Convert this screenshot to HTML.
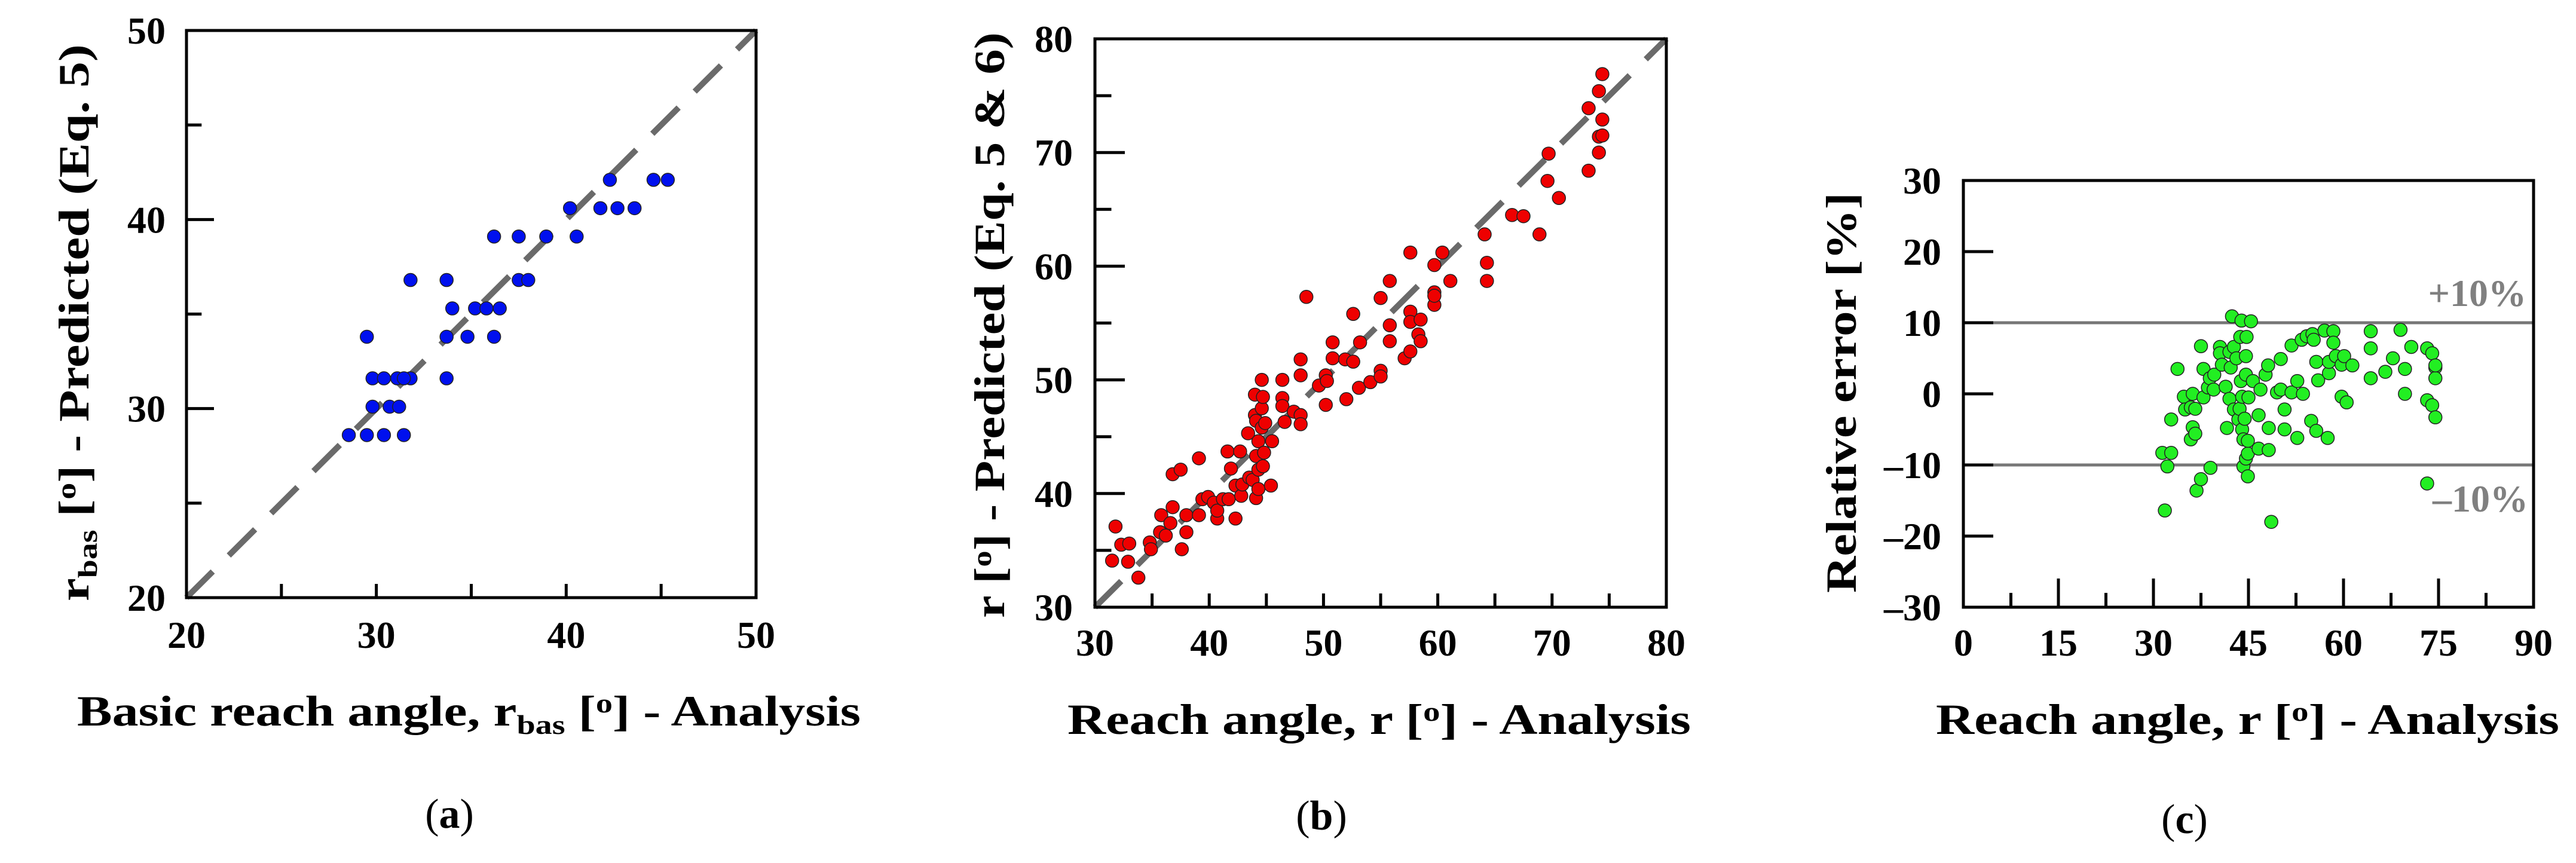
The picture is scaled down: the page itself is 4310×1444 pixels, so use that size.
<!DOCTYPE html>
<html><head><meta charset="utf-8">
<style>
html,body{margin:0;padding:0;background:#fff;}
svg{display:block;font-family:"Liberation Serif",serif;font-weight:bold;}
</style></head>
<body>
<svg id="fig" width="4310" height="1444" viewBox="0 0 4310 1444" xmlns="http://www.w3.org/2000/svg"></svg>
<script>
// Panel (a) data
const aX = [28.55,29.5,30.4,31.45,29.5,29.8,30.4,31.1,31.8,31.45,29.8,30.7,31.2,31.8,33.7,33.7,34.8,36.2,33.7,34.0,35.2,35.8,36.5,36.2,37.5,37.5,38.0,38.95,40.55,40.2,41.8,42.7,43.6,42.3,44.6,45.35];
const aY = [28.6,28.6,28.6,28.6,33.8,31.6,31.6,31.6,31.6,31.6,30.1,30.1,30.1,36.8,36.8,33.8,33.8,33.8,31.6,35.3,35.3,35.3,35.3,39.1,39.1,36.8,36.8,39.1,39.1,40.6,40.6,40.6,40.6,42.1,42.1,42.1];
const aTicks = [20,30,40,50];
// Panel (b) data
const bX = [31.5,31.8,32.3,33.0,32.9,33.8,34.8,34.9,35.7,35.8,36.2,36.6,36.8,36.8,37.5,37.6,38.0,38.0,39.1,39.1,39.4,39.9,40.4,40.7,40.7,41.2,41.7,41.6,41.9,42.3,42.3,42.7,42.8,42.9,43.4,43.5,43.8,44.0,44.0,44.1,44.3,44.1,44.1,44.3,44.3,44.6,44.6,44.6,44.7,44.8,44.7,44.9,45.5,45.4,46.4,46.4,46.4,46.6,47.4,48.0,48.0,48.0,48.0,48.5,49.6,50.2,50.2,50.3,50.8,50.8,51.9,52.0,52.6,52.6,53.2,53.1,54.1,55.0,55.0,55.0,55.8,55.8,55.8,57.1,57.6,57.6,57.6,57.6,58.3,58.5,58.5,59.7,59.7,59.7,59.7,60.4,61.1,64.1,64.3,64.3,66.5,67.5,68.9,69.7,69.6,70.6,73.2,73.2,74.1,74.1,74.1,74.4,74.4,74.4];
const bY = [34.1,37.1,35.5,35.6,34.0,32.6,35.7,35.1,36.6,38.1,36.3,37.4,38.8,41.7,42.1,35.1,36.6,38.1,38.1,43.1,39.5,39.7,39.2,37.8,38.5,39.5,39.5,43.7,42.2,37.8,40.7,43.7,39.8,40.8,45.3,41.4,41.2,48.7,46.9,46.4,44.6,43.3,39.6,40.4,42.1,47.5,45.8,50.0,48.5,43.6,42.4,46.2,44.6,40.7,50.0,48.4,47.7,46.3,47.2,51.8,50.4,46.9,46.1,57.3,49.5,47.8,50.4,49.9,53.3,51.9,51.8,48.3,55.8,51.6,53.3,49.3,49.8,57.2,50.8,50.3,58.7,54.8,53.4,51.9,52.5,56.0,55.1,61.2,54.0,55.3,53.4,60.1,57.7,56.6,57.4,61.2,58.7,62.8,60.3,58.7,64.5,64.4,62.8,69.9,67.5,66.0,73.9,68.4,75.4,70.0,71.4,76.9,72.9,71.5];
const bTicks = [30,40,50,60,70,80];
// Panel (c) data
const cX = [31.8,31.4,32.8,32.2,32.8,33.8,34.8,35.0,35.9,35.9,36.2,36.6,36.2,36.6,36.8,37.5,37.5,37.9,37.9,38.6,38.9,39.0,39.5,39.6,40.5,40.5,40.8,41.4,41.6,42.0,42.0,42.2,42.4,42.7,42.7,43.1,43.4,43.6,43.7,43.9,43.8,44.0,44.0,44.2,44.2,44.4,44.6,44.6,44.7,44.6,44.9,44.9,44.9,45.0,45.4,45.7,46.6,46.6,46.9,47.7,48.1,48.2,48.2,48.6,49.5,50.1,50.1,50.7,50.7,51.8,51.8,52.7,52.7,53.4,53.6,54.2,54.9,55.1,55.3,55.7,55.7,56.0,57.0,57.5,57.7,57.7,58.4,58.4,58.8,59.7,59.7,60.1,60.5,61.4,64.3,64.3,64.3,66.6,67.8,69.0,69.7,69.7,70.7,73.2,73.2,73.2,74.0,74.0,74.5,74.5,74.5,74.5];
const cY = [-16.4,-8.3,-8.3,-10.2,-3.6,3.5,-0.4,-2.2,-1.9,-6.4,-4.7,-5.6,0,-2.1,-13.6,-12.0,6.7,3.5,-0.5,0.9,2.2,-10.4,0.6,2.7,6.6,5.7,4.1,1.0,-4.8,-0.7,5.9,3.7,10.9,6.6,-2.2,5.0,-3.6,-2.1,8.0,10.3,1.8,-0.4,-5.0,-6.4,-10.2,-3.5,5.3,2.7,8.0,-9.1,-11.6,-8.4,-6.6,-0.5,10.2,1.8,-3.0,-7.7,0.6,2.7,4.0,-4.8,-7.9,-18.0,0.2,4.9,0.6,-2.2,-5.0,6.8,0.2,-6.2,1.8,7.6,0,8.1,-3.8,8.4,7.6,4.5,-5.2,1.9,8.9,-6.2,2.9,4.5,8.8,7.2,5.3,-0.4,4.1,5.3,-1.2,4.0,8.8,6.4,2.2,3.1,5.0,9.0,3.5,0,6.6,6.4,-0.9,-12.6,5.7,-1.6,3.7,2.2,-3.3,4.0];
const cXTicks = [0,15,30,45,60,75,90];
const cYTicks = [-30,-20,-10,0,10,20,30];
const cBands = [10,-10];

const NS = "http://www.w3.org/2000/svg";
const svg = document.getElementById('fig');
function el(tag, attrs, parent){
  const e = document.createElementNS(NS, tag);
  for (const k in attrs) e.setAttribute(k, attrs[k]);
  (parent||svg).appendChild(e);
  return e;
}
function lin(d0,d1,r0,r1){ return v => r0 + (v-d0)/(d1-d0)*(r1-r0); }

function panel(cfg){
  const g = el('g', {});
  
  
  const sx = lin(cfg.xd[0], cfg.xd[1], cfg.L, cfg.R);
  const sy = lin(cfg.yd[0], cfg.yd[1], cfg.B, cfg.T);
  if (cfg.bands){
    cfg.bands.forEach(v=>{
      const l = el('line',{x1:cfg.L,x2:cfg.R,y1:sy(v),y2:sy(v),stroke:'#777','stroke-width':5},g);
      
      
    });
  }
  const tg = el('g',{stroke:'#000','stroke-width':5},g);
  cfg.ytk.forEach(v=>{
    const y = sy(v);
    el('line',{x1:cfg.L,x2:cfg.L+cfg.ylen,y1:y,y2:y},tg);
    if (cfg.yminor){ const m=v+cfg.yminor; if (m<cfg.yd[1]) el('line',{x1:cfg.L,x2:cfg.L+cfg.ylen*0.55,y1:sy(m),y2:sy(m)},tg); }
  });
  cfg.xtk.forEach(v=>{
    const x = sx(v);
    el('line',{x1:x,x2:x,y1:cfg.B,y2:cfg.B-cfg.xlen},tg);
    if (cfg.xminor){ const m=v+cfg.xminor; if (m<cfg.xd[1]) el('line',{x1:sx(m),x2:sx(m),y1:cfg.B,y2:cfg.B-cfg.xlen*(cfg.xminorRatio||1)},tg); }
  });
  cfg.ytk.forEach(v=>{
    const t = el('text',{x:cfg.L-cfg.ylabOff,y:sy(v)+22,'text-anchor':'end','font-size':64},g);
    t.textContent = v<0 ? '\u2013'+(-v) : String(v);
    
    
  });
  cfg.xtk.forEach(v=>{
    const t = el('text',{x:sx(v),y:cfg.xlabY,'text-anchor':'middle','font-size':64},g);
    t.textContent = String(v);
    
    
  });
  if (cfg.diag){
    const d = el('line',{x1:sx(cfg.xd[0]),y1:sy(cfg.xd[0]),x2:sx(cfg.xd[1]),y2:sy(cfg.xd[1]),stroke:'#6a6a6a','stroke-width':10,'stroke-dasharray':'62 38'},g);
    
    
  }
  cfg.xs.forEach((xv,i)=>{
    const c = el('circle',{cx:sx(xv),cy:sy(cfg.ys[i]),r:11,fill:cfg.color,stroke:'#222','stroke-width':1.5},g);
    
    
  });
  const f = el('rect',{x:cfg.L,y:cfg.T,width:cfg.R-cfg.L,height:cfg.B-cfg.T,fill:'none',stroke:'#000','stroke-width':5},g);
  
  
}

panel({name:'panel-a',L:312,R:1265,T:51,B:1000,xd:[20,50],yd:[20,50],xtk:aTicks,ytk:aTicks,xminor:5,yminor:5,xlen:23,ylen:46,xminorRatio:1,ylabOff:35,xlabY:1084,diag:true,xs:aX,ys:aY,color:'#0010ee'});
panel({name:'panel-b',L:1832,R:2788,T:65,B:1016,xd:[30,80],yd:[30,80],xtk:bTicks,ytk:bTicks,xminor:5,yminor:5,xlen:23,ylen:50,xminorRatio:1,ylabOff:37,xlabY:1097,diag:true,xs:bX,ys:bY,color:'#ee0000'});
panel({name:'panel-c',L:3285,R:4239,T:302,B:1016,xd:[0,90],yd:[-30,30],xtk:cXTicks,ytk:cYTicks,xminor:7.5,yminor:0,xlen:48,ylen:50,xminorRatio:0.5,ylabOff:37,xlabY:1097,bands:cBands,xs:cX,ys:cY,color:'#22ee22'});
</script>
<svg style="position:absolute;left:0;top:0" width="4310" height="1444" viewBox="0 0 4310 1444" xmlns="http://www.w3.org/2000/svg" font-family="Liberation Serif, serif" font-weight="bold">
  <text x="129" y="1214" font-size="72" textLength="1311" lengthAdjust="spacingAndGlyphs">Basic reach angle, r<tspan font-size="46" dy="14">bas</tspan><tspan dy="-14"> [</tspan><tspan font-size="46" dy="-22">o</tspan><tspan dy="22">] - Analysis</tspan></text>
  <text transform="translate(148,1006) rotate(-90)" x="0" y="0" font-size="72" textLength="932" lengthAdjust="spacingAndGlyphs">r<tspan font-size="46" dy="14">bas</tspan><tspan dy="-14"> [</tspan><tspan font-size="46" dy="-22">o</tspan><tspan dy="22">] - Predicted (Eq. 5)</tspan></text>
  <text x="752" y="1385" font-size="70" text-anchor="middle"><tspan font-weight="normal">(</tspan>a<tspan font-weight="normal">)</tspan></text>
  <text x="1786" y="1228" font-size="72" textLength="1043" lengthAdjust="spacingAndGlyphs">Reach angle, r [<tspan font-size="46" dy="-22">o</tspan><tspan dy="22">] - Analysis</tspan></text>
  <text transform="translate(1680,1034) rotate(-90)" x="0" y="0" font-size="72" textLength="980" lengthAdjust="spacingAndGlyphs">r [<tspan font-size="46" dy="-22">o</tspan><tspan dy="22">] - Predicted (Eq. 5 &amp; 6)</tspan></text>
  <text x="2211" y="1388" font-size="70" text-anchor="middle"><tspan font-weight="normal">(</tspan>b<tspan font-weight="normal">)</tspan></text>
  <text x="3239" y="1228" font-size="72" textLength="1043" lengthAdjust="spacingAndGlyphs">Reach angle, r [<tspan font-size="46" dy="-22">o</tspan><tspan dy="22">] - Analysis</tspan></text>
  <text transform="translate(3105,992) rotate(-90)" x="0" y="0" font-size="72" textLength="670" lengthAdjust="spacingAndGlyphs">Relative error [%]</text>
  <text x="4227" y="512" font-size="64" fill="#808080" text-anchor="end">+10%</text>
  <text x="4230" y="856" font-size="64" fill="#808080" text-anchor="end">&#8211;10%</text>
  <text x="3655" y="1394" font-size="70" text-anchor="middle"><tspan font-weight="normal">(</tspan>c<tspan font-weight="normal">)</tspan></text>
</svg>
</body></html>
